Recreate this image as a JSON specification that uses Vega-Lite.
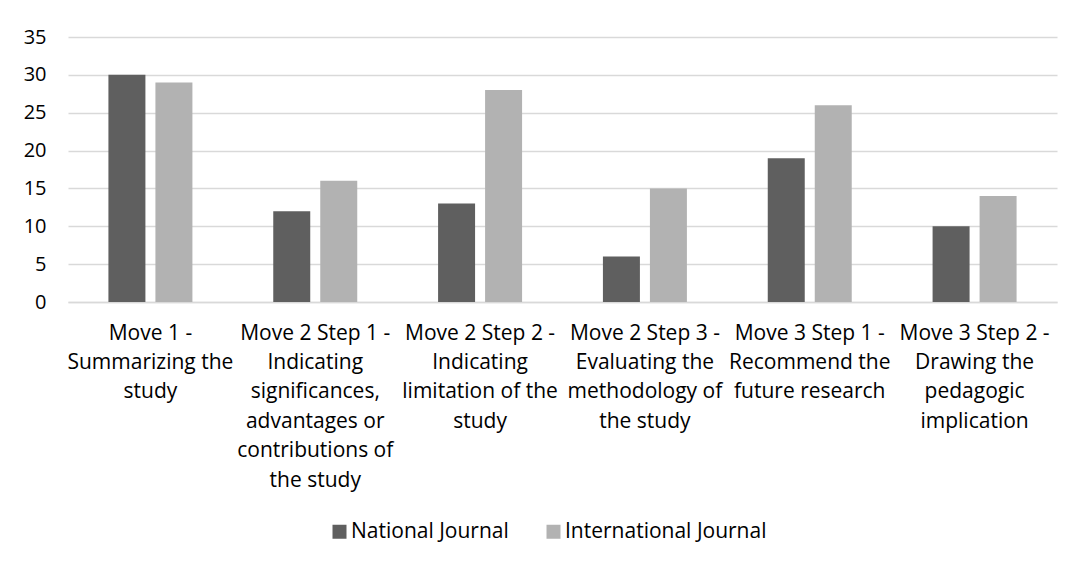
{
  "$schema": "https://vega.github.io/schema/vega-lite/v6.json",
  "width": 989,
  "height": 265,
  "autosize": {"type": "none"},
  "padding": {"left": 68, "top": 37, "right": 17, "bottom": 265},
  "background": "white",
  "config": {
    "font": "Open Sans",
    "view": {"stroke": null}
  },
  "data": {
    "values": [
      {"category": "Move 1 - Summarizing the study", "series": "National Journal", "value": 30},
      {"category": "Move 1 - Summarizing the study", "series": "International Journal", "value": 29},
      {"category": "Move 2 Step 1 - Indicating significances, advantages or contributions of the study", "series": "National Journal", "value": 12},
      {"category": "Move 2 Step 1 - Indicating significances, advantages or contributions of the study", "series": "International Journal", "value": 16},
      {"category": "Move 2 Step 2 - Indicating limitation of the study", "series": "National Journal", "value": 13},
      {"category": "Move 2 Step 2 - Indicating limitation of the study", "series": "International Journal", "value": 28},
      {"category": "Move 2 Step 3 - Evaluating the methodology of the study", "series": "National Journal", "value": 6},
      {"category": "Move 2 Step 3 - Evaluating the methodology of the study", "series": "International Journal", "value": 15},
      {"category": "Move 3 Step 1 - Recommend the future research", "series": "National Journal", "value": 19},
      {"category": "Move 3 Step 1 - Recommend the future research", "series": "International Journal", "value": 26},
      {"category": "Move 3 Step 2 - Drawing the pedagogic implication", "series": "National Journal", "value": 10},
      {"category": "Move 3 Step 2 - Drawing the pedagogic implication", "series": "International Journal", "value": 14}
    ]
  },
  "mark": {"type": "bar"},
  "encoding": {
    "x": {
      "field": "category",
      "type": "nominal",
      "sort": null,
      "scale": {"paddingInner": 0, "paddingOuter": 0},
      "axis": {
        "title": null,
        "labelAngle": 0,
        "ticks": false,
        "domainColor": "#d9d9d9",
        "domainWidth": 1.5,
        "labelPadding": 20,
        "labelBaseline": "top",
        "labelFontSize": 21,
        "labelColor": "#000000",
        "labelLineHeight": 29.4,
        "labelLimit": 0,
        "labelExpr": "datum.value == 'Move 1 - Summarizing the study' ? ['Move 1 -', 'Summarizing the', 'study'] : datum.value == 'Move 2 Step 1 - Indicating significances, advantages or contributions of the study' ? ['Move 2 Step 1 -', 'Indicating', 'significances,', 'advantages or', 'contributions of', 'the study'] : datum.value == 'Move 2 Step 2 - Indicating limitation of the study' ? ['Move 2 Step 2 -', 'Indicating', 'limitation of the', 'study'] : datum.value == 'Move 2 Step 3 - Evaluating the methodology of the study' ? ['Move 2 Step 3 -', 'Evaluating the', 'methodology of', 'the study'] : datum.value == 'Move 3 Step 1 - Recommend the future research' ? ['Move 3 Step 1 -', 'Recommend the', 'future research'] : ['Move 3 Step 2 -', 'Drawing the', 'pedagogic', 'implication']"
      }
    },
    "xOffset": {
      "field": "series",
      "type": "nominal",
      "sort": ["National Journal", "International Journal"],
      "scale": {"paddingInner": 0.213, "paddingOuter": 0.86}
    },
    "y": {
      "field": "value",
      "type": "quantitative",
      "scale": {"domain": [0, 35]},
      "axis": {
        "title": null,
        "values": [0, 5, 10, 15, 20, 25, 30, 35],
        "domain": false,
        "ticks": false,
        "gridColor": "#d9d9d9",
        "gridWidth": 1.5,
        "labelPadding": 22,
        "labelFontSize": 20,
        "labelColor": "#000000"
      }
    },
    "color": {
      "field": "series",
      "type": "nominal",
      "sort": ["National Journal", "International Journal"],
      "scale": {"domain": ["National Journal", "International Journal"], "range": ["#5f5f5f", "#b2b2b2"]},
      "legend": {
        "title": null,
        "orient": "none",
        "direction": "horizontal",
        "legendX": 261,
        "legendY": 484,
        "symbolType": "square",
        "symbolSize": 196,
        "symbolStrokeWidth": 0,
        "labelFontSize": 21,
        "labelColor": "#000000",
        "labelLimit": 0,
        "columnPadding": 34,
        "labelOffset": 1
      }
    }
  }
}
